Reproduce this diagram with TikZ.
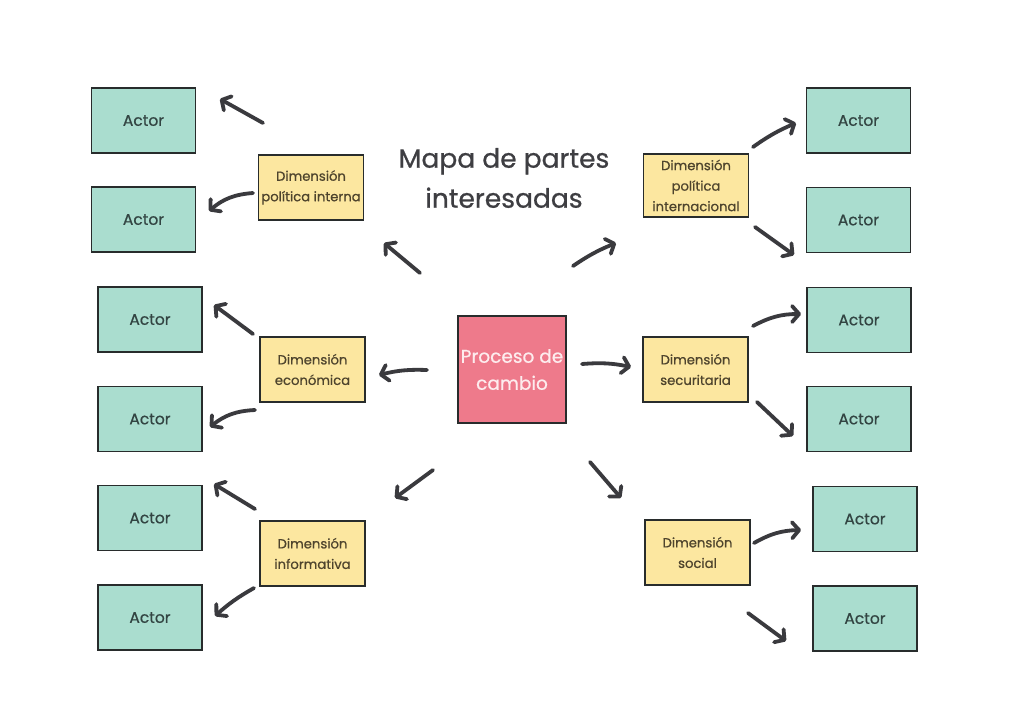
\documentclass[tikz,border=0pt]{standalone}
\usepackage{fontspec}
\setmainfont{Poppins}[FakeBold=0.7]
\usetikzlibrary{arrows.meta}
\definecolor{actorfill}{RGB}{170,221,207}
\definecolor{dimfill}{RGB}{252,231,160}
\definecolor{pinkfill}{RGB}{238,122,139}
\definecolor{edge}{RGB}{40,44,44}
\definecolor{actortext}{RGB}{50,68,66}
\definecolor{dimtext}{RGB}{78,68,45}
\definecolor{titletext}{RGB}{62,62,66}
\definecolor{arrowcol}{RGB}{58,58,62}
\definecolor{pinktext}{RGB}{253,236,238}
\tikzset{
  actorbox/.style={draw=edge, line width=1.4pt, fill=actorfill, minimum width=104pt, minimum height=65pt, inner sep=0pt,
    font=\fontsize{15.5}{18}\selectfont, text=actortext},
  dimbox/.style={draw=edge, line width=1.4pt, fill=dimfill, minimum width=105pt, minimum height=65pt, inner sep=0pt,
    align=center, font=\fontsize{13.2}{20.5}\selectfont, text=dimtext},
  centerbox/.style={draw=edge, line width=1.4pt, fill=pinkfill, minimum width=108pt, minimum height=107pt, inner sep=0pt,
    align=center, font=\fontsize{18.5}{27}\selectfont, text=pinktext},
  titlenode/.style={align=center, font=\fontsize{26.5}{40}\selectfont, text=titletext},
  arr/.style={draw=arrowcol, line width=3.8pt, line cap=round, line join=round,
    -{Straight Barb[length=7pt,width=16pt,line cap=round,line join=round]}}
}
\begin{document}
\begin{tikzpicture}[x=1pt,y=-1pt]
\useasboundingbox[fill=white] (0,0) rectangle (1024,724);
% title
\node[titlenode] (title) at (504,178) {Mapa de partes\\interesadas};
% center
\node[centerbox] (center) at (512,369.5) {Proceso de\\cambio};
% dimensions
\node[dimbox] (y1) at (311,187.5) {Dimensión\\política interna};
\node[dimbox] (y2) at (312.5,369.5) {Dimensión\\económica};
\node[dimbox] (y3) at (312.5,553.5) {Dimensión\\informativa};
\node[dimbox, minimum height=63pt] (y4) at (696,185.5) {Dimensión\\política\\internacional};
\node[dimbox] (y5) at (695.5,369.5) {Dimensión\\securitaria};
\node[dimbox] (y6) at (697.5,552.5) {Dimensión\\social};
% actors
\node[actorbox] (a1) at (143.5,120.5) {Actor};
\node[actorbox] (a2) at (143.5,219.5) {Actor};
\node[actorbox] (a3) at (150,319.5) {Actor};
\node[actorbox] (a4) at (150,419) {Actor};
\node[actorbox] (a5) at (150,518) {Actor};
\node[actorbox] (a6) at (150,617.5) {Actor};
\node[actorbox] (b1) at (858.5,120.5) {Actor};
\node[actorbox] (b2) at (858.5,220) {Actor};
\node[actorbox] (b3) at (859,320) {Actor};
\node[actorbox] (b4) at (859,419) {Actor};
\node[actorbox] (b5) at (865,519) {Actor};
\node[actorbox] (b6) at (865,618.5) {Actor};
% arrow end points
\coordinate (t1) at (263,123); \coordinate (h1) at (220,99);
\coordinate (t2) at (253,193); \coordinate (h2) at (209,211);
\coordinate (t3) at (253,334); \coordinate (h3) at (214,305);
\coordinate (t4) at (255,410); \coordinate (h4) at (210,427);
\coordinate (t5) at (255,509); \coordinate (h5) at (214,484);
\coordinate (t6) at (254,588); \coordinate (h6) at (215,616);
\coordinate (tc1) at (420,273); \coordinate (hc1) at (384,243);
\coordinate (tc2) at (427,370); \coordinate (hc2) at (379,375);
\coordinate (tc3) at (433,470); \coordinate (hc3) at (395,498);
\coordinate (tc4) at (573,266); \coordinate (hc4) at (616,243);
\coordinate (tc5) at (582,364); \coordinate (hc5) at (631,367);
\coordinate (tc6) at (590,462); \coordinate (hc6) at (621,498);
\coordinate (s1) at (753,147); \coordinate (g1) at (796,123);
\coordinate (s2) at (755,227); \coordinate (g2) at (794,255);
\coordinate (s3) at (753,326); \coordinate (g3) at (801,314);
\coordinate (s4) at (757,402); \coordinate (g4) at (793,436);
\coordinate (s5) at (754,543); \coordinate (g5) at (801,530);
\coordinate (s6) at (748,613); \coordinate (g6) at (786,641);
% arrows
\draw[arr] (t1) -- (h1);
\draw[arr] (t2) to[bend right=18] (h2);
\draw[arr] (t3) -- (h3);
\draw[arr] (t4) to[bend right=18] (h4);
\draw[arr] (t5) -- (h5);
\draw[arr] (t6) to[bend right=6] (h6);
\draw[arr] (tc1) -- (hc1);
\draw[arr] (tc2) to[bend right=8] (hc2);
\draw[arr] (tc3) -- (hc3);
\draw[arr] (tc4) to[bend left=6] (hc4);
\draw[arr] (tc5) to[bend left=8] (hc5);
\draw[arr] (tc6) -- (hc6);
\draw[arr] (s1) to[bend left=6] (g1);
\draw[arr] (s2) -- (g2);
\draw[arr] (s3) to[bend left=14] (g3);
\draw[arr] (s4) -- (g4);
\draw[arr] (s5) to[bend left=14] (g5);
\draw[arr] (s6) -- (g6);
\end{tikzpicture}
\end{document}
